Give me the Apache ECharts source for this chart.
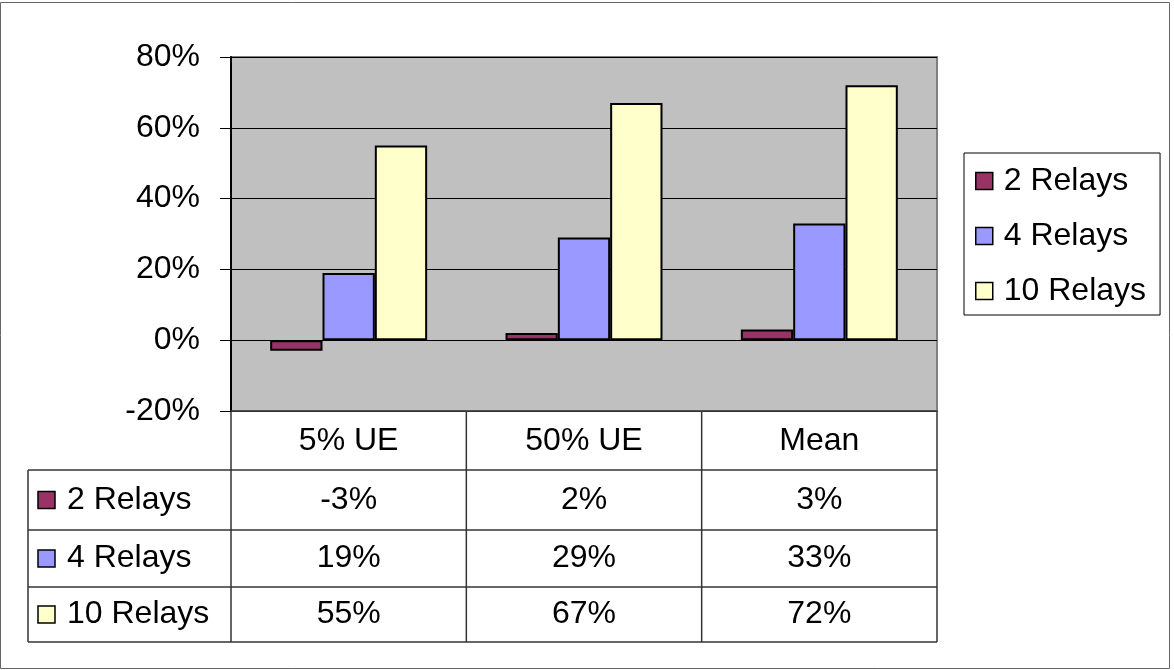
<!DOCTYPE html>
<html>
<head>
<meta charset="utf-8">
<title>Relay gain</title>
<script src="https://cdn.jsdelivr.net/npm/echarts@6/dist/echarts.min.js"></script>
<style>
  html, body { margin: 0; padding: 0; background: #fff; }
  #chart { width: 1174px; height: 670px; }
</style>
</head>
<body>
<div id="chart"></div>
<script>
// Categories and series values (percent)
const categories = ['5% UE', '50% UE', 'Mean'];
const seriesNames = ['2 Relays', '4 Relays', '10 Relays'];
const relays2 = [-3, 2, 3];
const relays4 = [19, 29, 33];
const relays10 = [55, 67, 72];
const seriesColors = ['#993366', '#9999ff', '#ffffcc'];

// Layout of the plot and the data table underneath
const FONT = '"Liberation Sans", Arial, sans-serif';
const FONT_SIZE = 32;
const GRID = { left: 231, top: 57, width: 706, height: 354 };
const TABLE_LEFT = 28;
const ROW_EDGES = [470, 530, 587, 642];
const LINE_COLOR = '#333';

const seriesValues = [relays2, relays4, relays10];

const chart = echarts.init(document.getElementById('chart'), null, { renderer: 'canvas' });

const option = {
  animation: false,
  backgroundColor: '#fff',
  textStyle: { fontFamily: FONT },
  grid: {
    left: GRID.left, top: GRID.top, width: GRID.width, height: GRID.height,
    show: true, backgroundColor: '#c0c0c0', borderColor: '#808080', borderWidth: 2
  },
  legend: {
    orient: 'vertical',
    left: 964, top: 153,
    padding: [12, 14, 8, 11],
    itemGap: 23,
    itemWidth: 17, itemHeight: 17,
    icon: 'rect',
    borderColor: '#000', borderWidth: 1,
    backgroundColor: '#fff',
    itemStyle: { borderColor: '#000', borderWidth: 1.5 },
    textStyle: { fontFamily: FONT, fontSize: FONT_SIZE, color: '#000', padding: [0, 0, 0, 6] },
    data: seriesNames
  },
  xAxis: {
    type: 'category',
    data: categories,
    axisLine: { show: true, onZero: false, lineStyle: { color: '#404040', width: 1.5 } },
    axisTick: { show: false },
    axisLabel: { fontFamily: FONT, fontSize: FONT_SIZE, color: '#000', margin: 14, lineHeight: 32 },
    splitLine: { show: false }
  },
  yAxis: {
    type: 'value',
    min: -20, max: 80, interval: 20,
    axisLine: { show: true, lineStyle: { color: '#000', width: 2 } },
    axisTick: { show: true, length: 11, lineStyle: { color: '#000', width: 1 } },
    axisLabel: { fontFamily: FONT, fontSize: FONT_SIZE, color: '#000', margin: 31, formatter: '{value}%' },
    splitLine: { show: true, lineStyle: { color: '#000', width: 1 } }
  },
  series: seriesNames.map((name, i) => ({
    name,
    type: 'bar',
    data: seriesValues[i],
    barGap: '0%',
    barCategoryGap: '33.3%',
    itemStyle: { color: seriesColors[i], borderColor: '#000', borderWidth: 2 }
  }))
};

chart.setOption(option);

// Data table below the plot: grid lines, row keys and values
function buildTable() {
  const gridRight = GRID.left + GRID.width;
  const gridBottom = GRID.top + GRID.height;
  const band = GRID.width / categories.length;
  const colEdges = categories.map((_, i) => GRID.left + i * band).concat([gridRight]);
  const els = [];
  const line = (x1, y1, x2, y2) => els.push({
    type: 'line', silent: true,
    shape: { x1, y1, x2, y2 },
    style: { stroke: LINE_COLOR, lineWidth: 1.5 }
  });

  // vertical column separators
  colEdges.forEach(x => line(x, gridBottom, x, ROW_EDGES[ROW_EDGES.length - 1]));
  line(TABLE_LEFT, ROW_EDGES[0], TABLE_LEFT, ROW_EDGES[ROW_EDGES.length - 1]);
  // horizontal row separators
  ROW_EDGES.forEach(y => line(TABLE_LEFT, y, gridRight, y));

  seriesNames.forEach((name, r) => {
    const cy = (ROW_EDGES[r] + ROW_EDGES[r + 1]) / 2;
    els.push({
      type: 'rect', silent: true,
      shape: { x: 38, y: cy - 8.5, width: 17, height: 17 },
      style: { fill: seriesColors[r], stroke: '#000', lineWidth: 1.5 }
    });
    els.push({
      type: 'text', silent: true,
      style: { x: 67, y: cy, text: name, font: FONT_SIZE + 'px ' + FONT, fill: '#000',
               textAlign: 'left', textVerticalAlign: 'middle' }
    });
    seriesValues[r].forEach((v, c) => {
      const cx = chart.convertToPixel({ xAxisIndex: 0 }, c);
      els.push({
        type: 'text', silent: true,
        style: { x: cx, y: cy, text: v + '%', font: FONT_SIZE + 'px ' + FONT, fill: '#000',
                 textAlign: 'center', textVerticalAlign: 'middle' }
      });
    });
  });

  // outer frame of the whole chart
  els.push({
    type: 'rect', silent: true, z: 100,
    shape: { x: 0.5, y: 2.5, width: 1169, height: 666 },
    style: { fill: 'none', stroke: '#666', lineWidth: 1 }
  });
  return els;
}

chart.setOption({ graphic: { elements: buildTable() } });
</script>
</body>
</html>
